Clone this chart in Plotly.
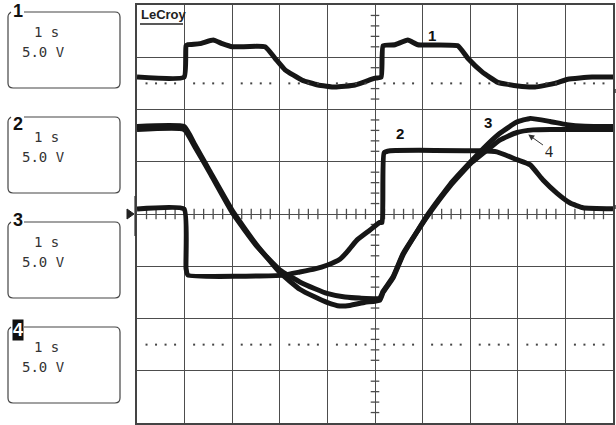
import plotly.graph_objects as go

# ---- channel samples: time in s (1 s/div), level in V (5 V/div) ----
t1 = [0.00, 0.99, 1.03, 1.07, 1.32, 1.60, 1.79, 2.00, 2.69, 2.90, 3.11, 3.47, 3.80,
      4.16, 4.58, 5.00, 5.13, 5.17, 5.42, 5.69, 5.90, 6.74, 6.95, 7.25, 7.58, 8.00,
      8.36, 8.78, 9.05, 9.56, 10.00]
v1 = [13.1, 13.1, 16.1, 16.2, 16.3, 16.65, 16.3, 16.0, 16.0, 14.9, 13.8, 12.8, 12.35,
      12.15, 12.35, 13.0, 13.1, 16.1, 16.2, 16.65, 16.2, 16.1, 14.9, 13.6, 12.6, 12.25,
      12.15, 12.5, 12.9, 13.1, 13.1]

t2 = [0.00, 0.99, 1.03, 1.07, 3.07, 3.42, 3.74, 3.99, 4.27, 4.41, 4.62, 4.89, 5.10,
      5.15, 5.19, 5.32, 7.21, 7.56, 7.98, 8.26, 8.53, 8.82, 9.10, 9.37, 10.00]
v2 = [0.48, 0.48, -5.2, -5.85, -5.85, -5.55, -5.25, -4.9, -4.3, -3.65, -2.5, -1.55, -0.8,
      -0.8, 5.85, 6.05, 6.05, 5.95, 5.2, 4.7, 3.25, 2.0, 1.05, 0.6, 0.5]

t3 = [0.00, 0.99, 1.22, 1.53, 2.02, 2.52, 3.00, 3.42, 3.74, 3.99, 4.26, 4.47, 4.79,
      5.10, 5.17, 5.38, 5.59, 6.11, 6.58, 7.00, 7.35, 7.63, 7.98, 8.26, 8.68, 9.03,
      9.41, 10.00]
v3 = [8.37, 8.37, 6.6, 4.1, 0.2, -3.0, -5.6, -7.2, -7.95, -8.45, -8.8, -8.75, -8.45,
      -8.25, -7.5, -6.1, -3.9, -0.05, 2.85, 4.95, 6.6, 7.75, 8.8, 9.15, 8.85, 8.55,
      8.4, 8.37]

t4 = [0.00, 0.99, 1.22, 1.53, 2.02, 2.52, 3.00, 3.42, 3.74, 3.99, 4.37, 4.68, 5.10,
      5.17, 5.38, 5.59, 6.11, 6.58, 7.00, 7.35, 7.63, 7.98, 8.32, 8.68, 10.00]
v4 = [8.09, 8.09, 6.4, 3.95, 0.0, -3.1, -5.35, -6.5, -7.15, -7.6, -7.95, -8.05, -8.05,
      -7.4, -6.0, -3.8, -0.15, 2.7, 4.8, 6.1, 7.1, 7.8, 8.05, 8.09, 8.09]

channel_names = ["1", "2", "3", "4"]
timebase_label = "1 s"
volts_label = "5.0 V"

W, H = 616, 425
PLOT_L, PLOT_R, PLOT_T, PLOT_B = 137, 613, 5, 423
T_DIV, V_DIV = 1.0, 5.0
N_X, N_Y = 10, 8

INK = "#161616"
GRID = "#4d4d4d"


def px(x):
    return x / W


def py(y):
    return 1 - y / H


fig = go.Figure()

for t, v in [(t1, v1), (t2, v2), (t3, v3), (t4, v4)]:
    fig.add_trace(go.Scatter(x=t, y=v, mode="lines",
                             line=dict(color=INK, width=5, shape="spline", smoothing=0.4),
                             hoverinfo="skip", showlegend=False))

# dotted reference rows at +/-2.5 div
dot_t = [i * T_DIV / 5 for i in range(1, N_X * 5) if i % 5 != 0]
for lvl in (2.5 * V_DIV, -2.5 * V_DIV):
    fig.add_trace(go.Scatter(x=dot_t, y=[lvl] * len(dot_t), mode="markers",
                             marker=dict(symbol="square", size=2, color="#444"),
                             hoverinfo="skip", showlegend=False))

shapes = []
# minor ticks along the centre cross
xc = N_X / 2 * T_DIV
for i in range(-N_Y * 5 // 2, N_Y * 5 // 2 + 1):
    if i % 5 == 0:
        continue
    v = i * V_DIV / 5
    shapes.append(dict(type="line", xref="x", yref="y", x0=xc - 0.09, x1=xc + 0.09,
                       y0=v, y1=v, line=dict(color=GRID, width=1.3), layer="below"))
for i in range(1, N_X * 5):
    if i % 5 == 0:
        continue
    t = i * T_DIV / 5
    shapes.append(dict(type="line", xref="x", yref="y", x0=t, x1=t,
                       y0=-0.5, y1=0.5, line=dict(color=GRID, width=1.3), layer="below"))


# channel info boxes on the left
def box_path(x0, y0, x1, y1, r=5, gap=16):
    return (f"M {px(x0 + gap)} {py(y0)} L {px(x1 - r)} {py(y0)} "
            f"Q {px(x1)} {py(y0)} {px(x1)} {py(y0 + r)} "
            f"L {px(x1)} {py(y1 - r)} Q {px(x1)} {py(y1)} {px(x1 - r)} {py(y1)} "
            f"L {px(x0 + r)} {py(y1)} Q {px(x0)} {py(y1)} {px(x0)} {py(y1 - r)} "
            f"L {px(x0)} {py(y0 + 5)} Q {px(x0)} {py(y0 + 2)} {px(x0 + 3)} {py(y0)}")


annotations = []
box_tops = [12, 117, 222, 327]
label_dy = [-1, 7, -2, 3]
for k, (name, top) in enumerate(zip(channel_names, box_tops)):
    shapes.append(dict(type="path", xref="paper", yref="paper",
                       path=box_path(8, top, 120, top + 76),
                       line=dict(color="#444", width=1.2)))
    inverted = name == "4"
    annotations.append(dict(xref="paper", yref="paper", x=px(18), y=py(top + label_dy[k]),
                            text=f"<b>{name}</b>", showarrow=False,
                            xanchor="center", yanchor="middle",
                            bgcolor="#111" if inverted else "rgba(0,0,0,0)",
                            borderpad=0,
                            font=dict(family="Liberation Sans Narrow, Liberation Sans, Arial",
                                      size=18, color="white" if inverted else "#111")))
    annotations.append(dict(xref="paper", yref="paper", x=px(32), y=py(top + 20),
                            text=timebase_label, showarrow=False,
                            xanchor="left", yanchor="middle",
                            font=dict(family="DejaVu Sans Mono", size=14, color="#333")))
    annotations.append(dict(xref="paper", yref="paper", x=px(20), y=py(top + 40),
                            text=volts_label, showarrow=False,
                            xanchor="left", yanchor="middle",
                            font=dict(family="DejaVu Sans Mono", size=14, color="#333")))

# ground marker left of the screen
shapes.append(dict(type="path", xref="paper", yref="paper",
                   path=f"M {px(127)} {py(209)} L {px(134)} {py(214)} L {px(127)} {py(219)} Z",
                   fillcolor="#222", line=dict(color="#222", width=1)))
shapes.append(dict(type="line", xref="paper", yref="paper", x0=px(135), x1=px(135),
                   y0=py(196), y1=py(236), line=dict(color="#333", width=1.2)))
# off-screen indicators on the right edge
for yy in (91, 207):
    shapes.append(dict(type="line", xref="paper", yref="paper", x0=px(615), x1=px(615),
                       y0=py(yy - 2), y1=py(yy + 2), line=dict(color="#333", width=1.5)))

# brand mark
annotations.append(dict(xref="paper", yref="paper", x=px(139), y=py(15),
                        text="<b>LeCroy</b>", showarrow=False,
                        xanchor="left", yanchor="middle",
                        font=dict(family="Liberation Sans Narrow, Liberation Sans, Arial",
                                  size=13, color="#222")))
shapes.append(dict(type="line", xref="paper", yref="paper", x0=px(140), x1=px(183),
                   y0=py(24), y1=py(24), line=dict(color="#222", width=1.5)))

# trace labels
lab_font = dict(family="Liberation Sans Narrow, Liberation Sans, Arial", size=15, color="#111")
annotations += [
    dict(x=6.2, y=17.1, text="<b>1</b>", showarrow=False, font=lab_font),
    dict(x=5.53, y=7.75, text="<b>2</b>", showarrow=False, font=lab_font),
    dict(x=7.37, y=8.8, text="<b>3</b>", showarrow=False, font=lab_font),
    dict(x=8.66, y=6.0, text="4", showarrow=False,
         font=dict(family="Liberation Serif", size=16, color="#222")),
    dict(x=8.22, y=7.6, ax=8.56, ay=6.5, axref="x", ayref="y", text="",
         showarrow=True, arrowhead=2, arrowsize=1.2, arrowwidth=1, arrowcolor="#333"),
]

fig.update_layout(
    width=W, height=H,
    margin=dict(l=0, r=0, t=0, b=0),
    paper_bgcolor="white", plot_bgcolor="white",
    shapes=shapes, annotations=annotations,
    xaxis=dict(domain=[PLOT_L / W, PLOT_R / W], range=[0, N_X * T_DIV],
               dtick=T_DIV, tick0=0, showgrid=True, gridcolor=GRID, gridwidth=1.4,
               showticklabels=False, ticks="", zeroline=False,
               showline=True, mirror=True, linecolor="#444", linewidth=2),
    yaxis=dict(domain=[1 - PLOT_B / H, 1 - PLOT_T / H],
               range=[-N_Y / 2 * V_DIV, N_Y / 2 * V_DIV],
               dtick=V_DIV, tick0=0, showgrid=True, gridcolor=GRID, gridwidth=1.4,
               showticklabels=False, ticks="", zeroline=False,
               showline=True, mirror=True, linecolor="#444", linewidth=2),
)

fig.write_html("out.html")
